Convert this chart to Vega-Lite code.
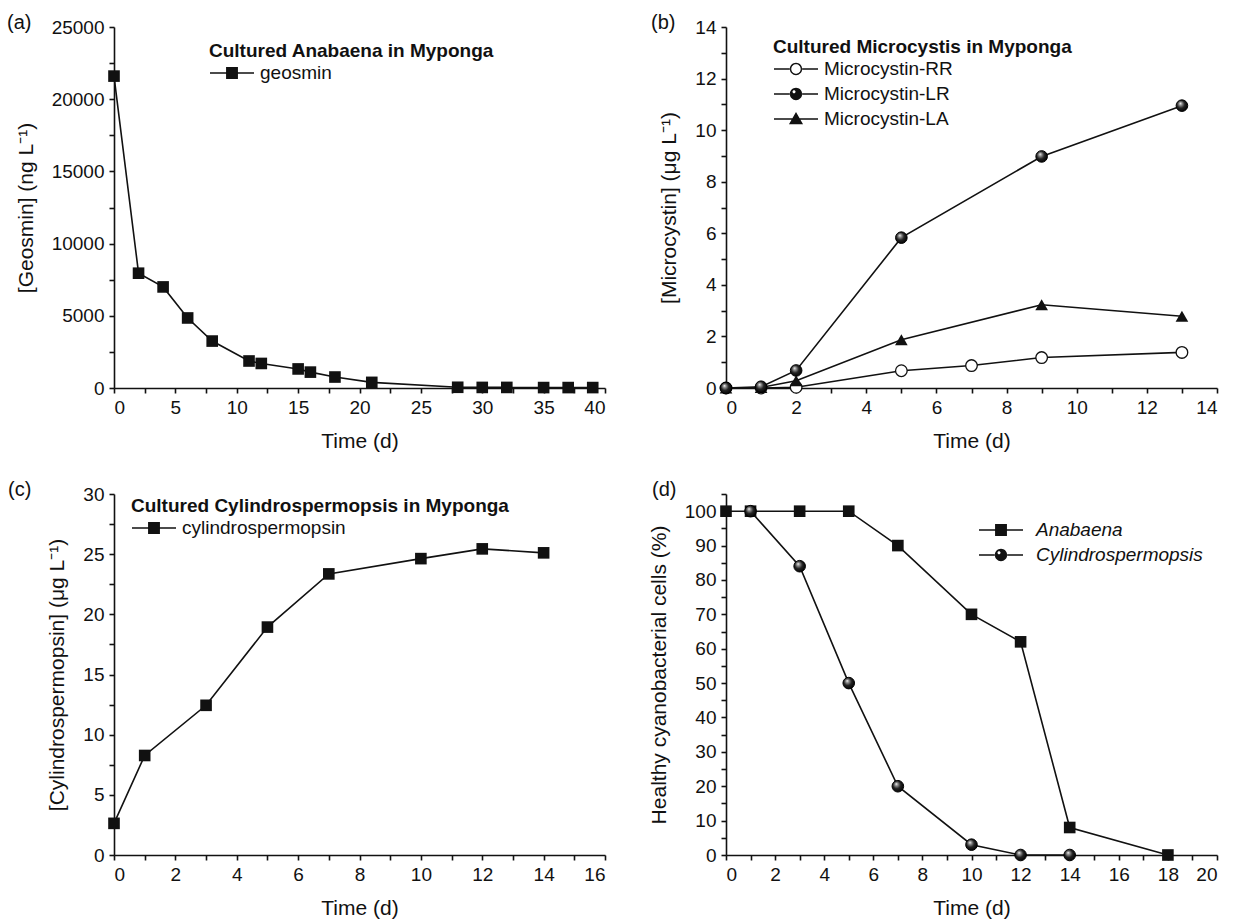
{
  "$schema": "https://vega.github.io/schema/vega-lite/v6.json",
  "padding": {"left": 7, "top": 13, "right": 2, "bottom": 2},
  "background": "white",
  "config": {
    "font": "Liberation Sans",
    "view": {"stroke": null},
    "axis": {"domainColor": "#111", "domainWidth": 1.6, "labelFontSize": 19, "labelColor": "#111", "titleFontSize": 21, "titleFontWeight": "normal", "titleColor": "#111", "grid": false, "labelPadding": 5, "labelOverlap": false},
    "axisX": {"titlePadding": 13},
    "axisY": {"titlePadding": 15},
    "legend": {"orient": "none", "labelFontSize": 19, "labelColor": "#111", "titleFontSize": 19, "titleFontWeight": "bold", "titleColor": "#111", "symbolSize": 1936, "clipHeight": 20, "rowPadding": 5, "padding": 0, "titlePadding": 2, "labelOffset": 5, "labelLimit": 500, "titleLimit": 700, "symbolOpacity": 1},
    "title": {"fontSize": 20, "fontWeight": "normal", "anchor": "start", "frame": "group", "color": "#111", "offset": 0}
  },
  "resolve": {"scale": {"shape": "independent"}, "legend": {"shape": "independent"}},
  "datasets": {
    "geo": [
      {"t": 0, "v": 21600, "s": "geosmin"}, {"t": 2, "v": 7950, "s": "geosmin"}, {"t": 4, "v": 7000, "s": "geosmin"},
      {"t": 6, "v": 4850, "s": "geosmin"}, {"t": 8, "v": 3250, "s": "geosmin"}, {"t": 11, "v": 1870, "s": "geosmin"},
      {"t": 12, "v": 1700, "s": "geosmin"}, {"t": 15, "v": 1320, "s": "geosmin"}, {"t": 16, "v": 1100, "s": "geosmin"},
      {"t": 18, "v": 760, "s": "geosmin"}, {"t": 21, "v": 390, "s": "geosmin"}, {"t": 28, "v": 50, "s": "geosmin"},
      {"t": 30, "v": 40, "s": "geosmin"}, {"t": 32, "v": 40, "s": "geosmin"}, {"t": 35, "v": 30, "s": "geosmin"},
      {"t": 37, "v": 30, "s": "geosmin"}, {"t": 39, "v": 30, "s": "geosmin"}
    ],
    "mc": [
      {"t": 0, "v": 0, "s": "Microcystin-RR"}, {"t": 1, "v": 0, "s": "Microcystin-RR"}, {"t": 2, "v": 0.03, "s": "Microcystin-RR"},
      {"t": 5, "v": 0.67, "s": "Microcystin-RR"}, {"t": 7, "v": 0.87, "s": "Microcystin-RR"}, {"t": 9, "v": 1.18, "s": "Microcystin-RR"},
      {"t": 13, "v": 1.38, "s": "Microcystin-RR"},
      {"t": 0, "v": 0, "s": "Microcystin-LR"}, {"t": 1, "v": 0.05, "s": "Microcystin-LR"}, {"t": 2, "v": 0.68, "s": "Microcystin-LR"},
      {"t": 5, "v": 5.83, "s": "Microcystin-LR"}, {"t": 9, "v": 8.98, "s": "Microcystin-LR"}, {"t": 13, "v": 10.95, "s": "Microcystin-LR"},
      {"t": 0, "v": 0, "s": "Microcystin-LA"}, {"t": 1, "v": 0.02, "s": "Microcystin-LA"}, {"t": 2, "v": 0.28, "s": "Microcystin-LA"},
      {"t": 5, "v": 1.87, "s": "Microcystin-LA"}, {"t": 9, "v": 3.23, "s": "Microcystin-LA"}, {"t": 13, "v": 2.78, "s": "Microcystin-LA"}
    ],
    "cyl": [
      {"t": 0, "v": 2.63, "s": "cylindrospermopsin"}, {"t": 1, "v": 8.27, "s": "cylindrospermopsin"}, {"t": 3, "v": 12.44, "s": "cylindrospermopsin"},
      {"t": 5, "v": 18.94, "s": "cylindrospermopsin"}, {"t": 7, "v": 23.36, "s": "cylindrospermopsin"}, {"t": 10, "v": 24.63, "s": "cylindrospermopsin"},
      {"t": 12, "v": 25.44, "s": "cylindrospermopsin"}, {"t": 14, "v": 25.11, "s": "cylindrospermopsin"}
    ],
    "cells": [
      {"t": 0, "v": 100, "s": "Anabaena"}, {"t": 1, "v": 100, "s": "Anabaena"}, {"t": 3, "v": 100, "s": "Anabaena"},
      {"t": 5, "v": 100, "s": "Anabaena"}, {"t": 7, "v": 90, "s": "Anabaena"}, {"t": 10, "v": 70, "s": "Anabaena"},
      {"t": 12, "v": 62, "s": "Anabaena"}, {"t": 14, "v": 8, "s": "Anabaena"}, {"t": 18, "v": 0, "s": "Anabaena"},
      {"t": 1, "v": 100, "s": "Cylindrospermopsis"}, {"t": 3, "v": 84, "s": "Cylindrospermopsis"}, {"t": 5, "v": 50, "s": "Cylindrospermopsis"},
      {"t": 7, "v": 20, "s": "Cylindrospermopsis"}, {"t": 10, "v": 3, "s": "Cylindrospermopsis"}, {"t": 12, "v": 0, "s": "Cylindrospermopsis"},
      {"t": 14, "v": 0, "s": "Cylindrospermopsis"}
    ]
  },
  "columns": 2,
  "bounds": "flush",
  "spacing": {"row": 106, "column": 121},
  "concat": [
    {
      "width": 491, "height": 361,
      "title": {"text": "(a)", "dx": -107, "dy": 19},
      "data": {"name": "geo"},
      "encoding": {
        "x": {"field": "t", "type": "quantitative", "title": "Time (d)", "scale": {"domain": [0, 40], "nice": false, "zero": false},
          "axis": {"ticks": true, "tickColor": "#111", "tickSize": 5, "tickWidth": 1.6, "values": [0, 2.5, 5, 7.5, 10, 12.5, 15, 17.5, 20, 22.5, 25, 27.5, 30, 32.5, 35, 37.5, 40], "labelExpr": "datum.value % 5 === 0 ? datum.label : ''"}},
        "y": {"field": "v", "type": "quantitative", "title": "[Geosmin] (ng L⁻¹)", "scale": {"domain": [0, 25000], "nice": false},
          "axis": {"ticks": true, "tickColor": "#111", "tickSize": 5, "tickWidth": 1.6, "format": "d", "values": [0, 2500, 5000, 7500, 10000, 12500, 15000, 17500, 20000, 22500, 25000], "labelExpr": "datum.value % 5000 === 0 ? datum.label : ''"}}
      },
      "layer": [
        {"mark": {"type": "line", "color": "#111", "strokeWidth": 1.6}},
        {"mark": {"type": "point", "shape": "square", "filled": true, "color": "#111", "size": 135, "opacity": 1}},
        {"transform": [{"filter": "false"}],
          "mark": {"type": "point", "filled": true, "color": "#111"},
          "encoding": {"shape": {"field": "s", "type": "nominal",
            "scale": {"domain": ["geosmin"], "range": ["M-1,-0.035H-0.27V0.035H-1ZM0.27,-0.035H1V0.035H0.27ZM-0.27,-0.27H0.27V0.27H-0.27Z"]},
            "legend": {"title": "Cultured Anabaena in Myponga", "legendX": 95, "legendY": 15}}}}
      ]
    },
    {
      "width": 491, "height": 361,
      "title": {"text": "(b)", "dx": -75, "dy": 19},
      "data": {"name": "mc"},
      "encoding": {
        "x": {"field": "t", "type": "quantitative", "title": "Time (d)", "scale": {"domain": [0, 14], "nice": false},
          "axis": {"ticks": true, "tickColor": "#111", "tickSize": 5, "tickWidth": 1.6, "format": "d", "values": [0, 1, 2, 3, 4, 5, 6, 7, 8, 9, 10, 11, 12, 13, 14], "labelExpr": "datum.value % 2 === 0 ? datum.label : ''"}},
        "y": {"field": "v", "type": "quantitative", "title": "[Microcystin] (μg L⁻¹)", "scale": {"domain": [0, 14], "nice": false},
          "axis": {"ticks": true, "tickColor": "#111", "tickSize": 5, "tickWidth": 1.6, "format": "d", "values": [0, 1, 2, 3, 4, 5, 6, 7, 8, 9, 10, 11, 12, 13, 14], "labelExpr": "datum.value % 2 === 0 ? datum.label : ''"}}
      },
      "layer": [
        {"transform": [{"filter": "datum.s === 'Microcystin-RR'"}], "mark": {"type": "line", "color": "#111", "strokeWidth": 1.6}},
        {"transform": [{"filter": "datum.s === 'Microcystin-LR'"}], "mark": {"type": "line", "color": "#111", "strokeWidth": 1.6}},
        {"transform": [{"filter": "datum.s === 'Microcystin-LA'"}], "mark": {"type": "line", "color": "#111", "strokeWidth": 1.6}},
        {"transform": [{"filter": "datum.s === 'Microcystin-RR'"}], "mark": {"type": "point", "shape": "circle", "filled": true, "fill": "white", "stroke": "#111", "strokeWidth": 1.3, "size": 135, "opacity": 1}},
        {"transform": [{"filter": "datum.s === 'Microcystin-LA'"}], "mark": {"type": "point", "shape": "triangle-up", "filled": true, "color": "#111", "size": 160, "opacity": 1}},
        {"transform": [{"filter": "datum.s === 'Microcystin-LR'"}], "mark": {"type": "point", "shape": "circle", "filled": true, "stroke": "#000", "strokeWidth": 1, "size": 135, "opacity": 1,
          "fill": {"gradient": "radial", "x1": 0.36, "y1": 0.3, "r1": 0, "x2": 0.45, "y2": 0.45, "r2": 0.6, "stops": [{"offset": 0, "color": "#ffffff"}, {"offset": 0.2, "color": "#999999"}, {"offset": 0.55, "color": "#222222"}, {"offset": 1, "color": "#000000"}]}}},
        {"transform": [{"filter": "false"}],
          "mark": {"type": "point", "filled": true, "color": "#111"},
          "encoding": {"shape": {"field": "s", "type": "nominal",
            "scale": {"domain": ["Microcystin-RR", "Microcystin-LR", "Microcystin-LA"], "range": [
              "M-1,-0.035H-0.27V0.035H-1ZM0.27,-0.035H1V0.035H0.27ZM0.28,0A0.28,0.28,0,1,0,-0.28,0A0.28,0.28,0,1,0,0.28,0ZM0.215,0A0.215,0.215,0,1,1,-0.215,0A0.215,0.215,0,1,1,0.215,0Z",
              "M-1,-0.035H-0.27V0.035H-1ZM0.27,-0.035H1V0.035H0.27ZM0.28,0A0.28,0.28,0,1,0,-0.28,0A0.28,0.28,0,1,0,0.28,0ZM-0.02,-0.1A0.07,0.07,0,1,1,-0.16,-0.1A0.07,0.07,0,1,1,-0.02,-0.1Z",
              "M-1,-0.035H1V0.035H-1ZM0,-0.32L0.32,0.24L-0.32,0.24Z"]},
            "legend": {"title": "Cultured Microcystis in Myponga", "legendX": 47, "legendY": 11}}}}
      ]
    },
    {
      "width": 491, "height": 361,
      "title": {"text": "(c)", "dx": -106, "dy": 19},
      "data": {"name": "cyl"},
      "encoding": {
        "x": {"field": "t", "type": "quantitative", "title": "Time (d)", "scale": {"domain": [0, 16], "nice": false},
          "axis": {"ticks": true, "tickColor": "#111", "tickSize": 5, "tickWidth": 1.6, "format": "d", "values": [0, 1, 2, 3, 4, 5, 6, 7, 8, 9, 10, 11, 12, 13, 14, 15, 16], "labelExpr": "datum.value % 2 === 0 ? datum.label : ''"}},
        "y": {"field": "v", "type": "quantitative", "title": "[Cylindrospermopsin] (μg L⁻¹)", "scale": {"domain": [0, 30], "nice": false},
          "axis": {"ticks": true, "tickColor": "#111", "tickSize": 5, "tickWidth": 1.6, "format": "d", "values": [0, 2.5, 5, 7.5, 10, 12.5, 15, 17.5, 20, 22.5, 25, 27.5, 30], "labelExpr": "datum.value % 5 === 0 ? datum.label : ''"}}
      },
      "layer": [
        {"mark": {"type": "line", "color": "#111", "strokeWidth": 1.6}},
        {"mark": {"type": "point", "shape": "square", "filled": true, "color": "#111", "size": 135, "opacity": 1}},
        {"transform": [{"filter": "false"}],
          "mark": {"type": "point", "filled": true, "color": "#111"},
          "encoding": {"shape": {"field": "s", "type": "nominal",
            "scale": {"domain": ["cylindrospermopsin"], "range": ["M-1,-0.035H-0.27V0.035H-1ZM0.27,-0.035H1V0.035H0.27ZM-0.27,-0.27H0.27V0.27H-0.27Z"]},
            "legend": {"title": "Cultured Cylindrospermopsis in Myponga", "legendX": 17, "legendY": 3}}}}
      ]
    },
    {
      "width": 491, "height": 361,
      "title": {"text": "(d)", "dx": -74, "dy": 19},
      "data": {"name": "cells"},
      "encoding": {
        "x": {"field": "t", "type": "quantitative", "title": "Time (d)", "scale": {"domain": [0, 20], "nice": false},
          "axis": {"ticks": true, "tickColor": "#111", "tickSize": 5, "tickWidth": 1.6, "format": "d", "values": [0, 1, 2, 3, 4, 5, 6, 7, 8, 9, 10, 11, 12, 13, 14, 15, 16, 17, 18, 19, 20], "labelExpr": "datum.value % 2 === 0 ? datum.label : ''"}},
        "y": {"field": "v", "type": "quantitative", "title": "Healthy cyanobacterial cells (%)", "scale": {"domain": [0, 105], "nice": false},
          "axis": {"ticks": true, "tickColor": "#111", "tickSize": 5, "tickWidth": 1.6, "format": "d", "values": [0, 5, 10, 15, 20, 25, 30, 35, 40, 45, 50, 55, 60, 65, 70, 75, 80, 85, 90, 95, 100, 105], "labelExpr": "datum.value % 10 === 0 ? datum.label : ''"}}
      },
      "layer": [
        {"transform": [{"filter": "datum.s === 'Anabaena'"}], "mark": {"type": "line", "color": "#111", "strokeWidth": 1.6}},
        {"transform": [{"filter": "datum.s === 'Cylindrospermopsis'"}], "mark": {"type": "line", "color": "#111", "strokeWidth": 1.6}},
        {"transform": [{"filter": "datum.s === 'Anabaena'"}], "mark": {"type": "point", "shape": "square", "filled": true, "color": "#111", "size": 135, "opacity": 1}},
        {"transform": [{"filter": "datum.s === 'Cylindrospermopsis'"}], "mark": {"type": "point", "shape": "circle", "filled": true, "stroke": "#000", "strokeWidth": 1, "size": 135, "opacity": 1,
          "fill": {"gradient": "radial", "x1": 0.36, "y1": 0.3, "r1": 0, "x2": 0.45, "y2": 0.45, "r2": 0.6, "stops": [{"offset": 0, "color": "#ffffff"}, {"offset": 0.2, "color": "#999999"}, {"offset": 0.55, "color": "#222222"}, {"offset": 1, "color": "#000000"}]}}},
        {"transform": [{"filter": "false"}],
          "mark": {"type": "point", "filled": true, "color": "#111"},
          "encoding": {"shape": {"field": "s", "type": "nominal",
            "scale": {"domain": ["Anabaena", "Cylindrospermopsis"], "range": [
              "M-1,-0.035H-0.27V0.035H-1ZM0.27,-0.035H1V0.035H0.27ZM-0.27,-0.27H0.27V0.27H-0.27Z",
              "M-1,-0.035H-0.27V0.035H-1ZM0.27,-0.035H1V0.035H0.27ZM0.28,0A0.28,0.28,0,1,0,-0.28,0A0.28,0.28,0,1,0,0.28,0ZM-0.02,-0.1A0.07,0.07,0,1,1,-0.16,-0.1A0.07,0.07,0,1,1,-0.02,-0.1Z"]},
            "legend": {"title": null, "legendX": 252, "legendY": 26, "labelOffset": 12, "labelFontStyle": "italic"}}}}
      ]
    }
  ]
}
